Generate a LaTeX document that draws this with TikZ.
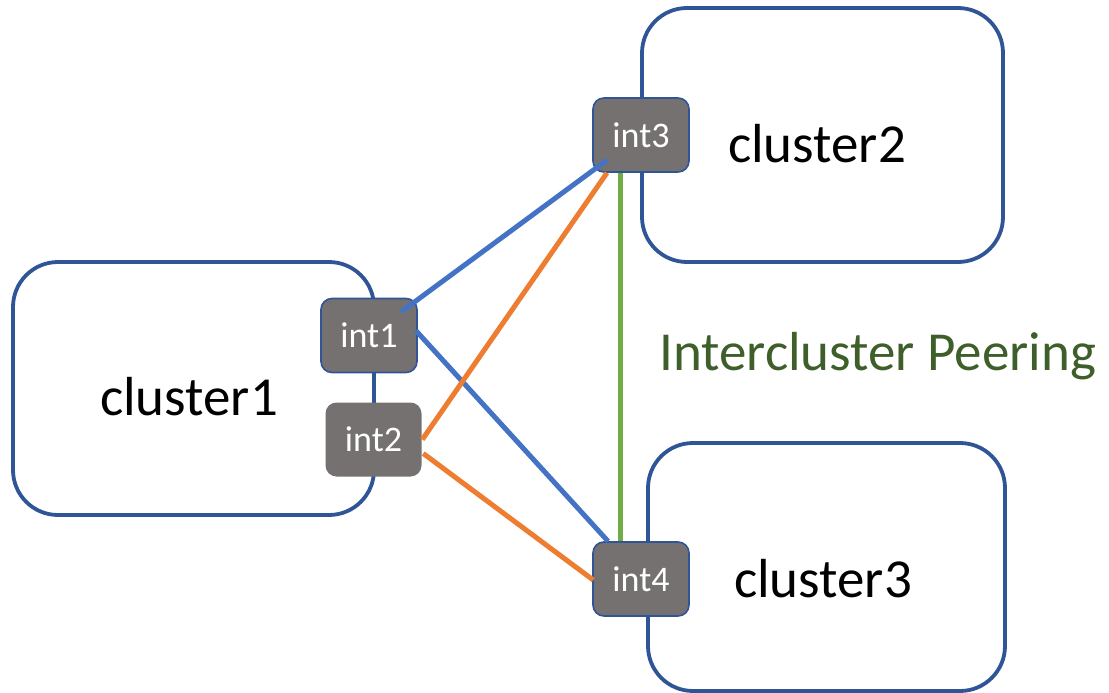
\documentclass[tikz,border=0pt]{standalone}
\usepackage{fontspec}
\setmainfont{Carlito}
\usetikzlibrary{calc}
\definecolor{clusterblue}{HTML}{2F5597}
\definecolor{lineblue}{HTML}{4472C4}
\definecolor{lineorange}{HTML}{ED7D31}
\definecolor{linegreen}{HTML}{70AD47}
\definecolor{textgreen}{HTML}{3F5F2A}
\definecolor{intgrey}{HTML}{767171}
\begin{document}
\begin{tikzpicture}[x=1pt,y=-1pt,
  clusterbox/.style={draw=clusterblue, line width=3.8pt, fill=white, rounded corners=45pt, rectangle, inner sep=0pt},
  intbox/.style={draw=clusterblue, line width=1.6pt, fill=intgrey, rounded corners=11pt, rectangle, inner sep=0pt,
    minimum width=96pt, minimum height=74pt, text=white, font=\fontsize{36}{40}\selectfont},
  clusterlabel/.style={anchor=base, font=\fontsize{55}{64}\selectfont, text=black, inner sep=0pt},
  conn/.style={line width=5pt}
]
\useasboundingbox (0,0) rectangle (1109,693);
% clusters
\node[clusterbox, minimum width=361pt, minimum height=253pt] (c1) at (193.5,388.5) {};
\node[clusterbox, minimum width=361pt, minimum height=254pt] (c2) at (822.5,135) {};
\node[clusterbox, minimum width=357pt, minimum height=248pt] (c3) at (826.5,567) {};
\node[clusterlabel] (c1t) at (189,415) {cluster1};
\node[clusterlabel] (c2t) at (817,162) {cluster2};
\node[clusterlabel] (c3t) at (823,597) {cluster3};
% interfaces
\node[intbox] (int1) at (369,335.5) {int1};
\node[intbox, draw=none] (int2) at (373.5,439.5) {int2};
\node[intbox] (int3) at (641,135) {int3};
\node[intbox] (int4) at (641,579) {int4};
% connectors
\draw[conn, lineblue, shorten <=40pt, shorten >=42pt] (int1.center) -- (int3.center);
\draw[conn, lineblue] ($(int1.east)+(-2,-5)$) -- ($(int4.north)+(-33,0)$);
\draw[conn, lineorange] (int2.east) -- ($(int3.south)+(-34,0)$);
\draw[conn, lineorange] ($(int2.east)+(1,14)$) -- ($(int4.west)+(1,1)$);
\draw[conn, linegreen] ($(int3.south)+(-21,0)$) -- ($(int4.north)+(-21,0)$);
% label
\node[anchor=base west, inner sep=0pt, text=textgreen, font=\fontsize{55}{64}\selectfont] (peer) at (659,370) {Intercluster Peering};
\end{tikzpicture}
\end{document}
